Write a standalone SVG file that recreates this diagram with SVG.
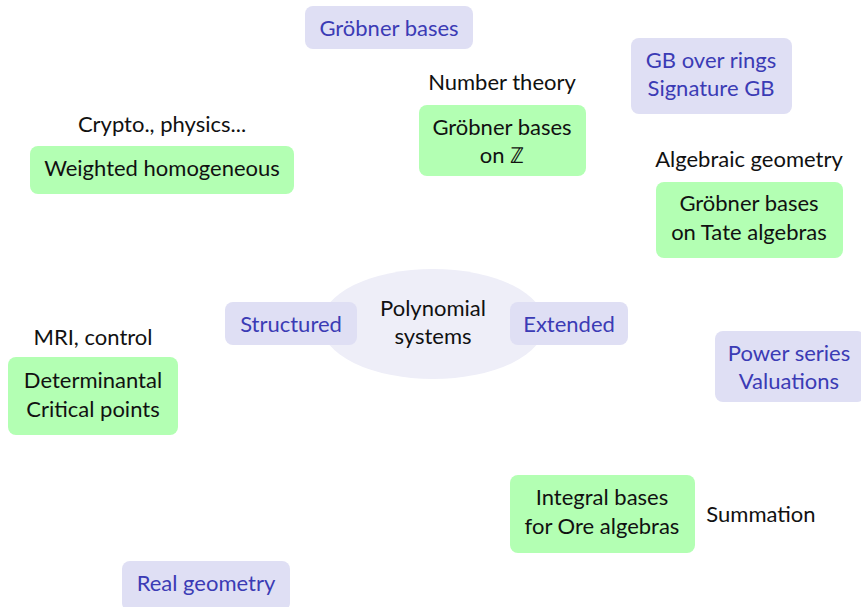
<svg xmlns="http://www.w3.org/2000/svg" width="861" height="607" viewBox="0 0 861 607">
<style>
text{font-family:Lato,"Open Sans",sans-serif;font-size:22px;text-anchor:middle;fill:#111}
.b rect{fill:#dfdff4}
.b text{fill:#3b3bb5}
.g rect{fill:#b3ffb3}
</style>
<rect width="861" height="607" fill="#fff"/>
<g id="connectors"></g>
<g id="center"><ellipse cx="433" cy="324" rx="112" ry="55" fill="#eeeef8"/>
<text x="433" y="316">Polynomial</text><text x="433" y="344">systems</text></g>
<g id="structured" class="b"><rect x="225" y="302" width="132" height="43" rx="8"/><text x="291" y="332">Structured</text></g>
<g id="extended" class="b"><rect x="510" y="302" width="118" height="43" rx="8"/><text x="569" y="332">Extended</text></g>
<g id="groebner" class="b"><rect x="305" y="6" width="168" height="43" rx="8"/><text x="389" y="36">Gröbner bases</text></g>
<g id="gbrings" class="b"><rect x="631" y="38" width="161" height="76" rx="8"/><text x="711" y="68">GB over rings</text><text x="711" y="96">Signature GB</text></g>
<g id="power" class="b"><rect x="715" y="331" width="150" height="71" rx="8"/><text x="789" y="361">Power series</text><text x="789" y="389">Valuations</text></g>
<g id="real" class="b"><rect x="122" y="561" width="168" height="50" rx="8"/><text x="206" y="591">Real geometry</text></g>
<g id="gbz" class="g"><text x="502" y="90">Number theory</text><rect x="419" y="105" width="167" height="71" rx="8"/><text x="502" y="135">Gröbner bases</text><text x="502" y="163">on ℤ</text></g>
<g id="tate" class="g"><text x="749" y="167">Algebraic geometry</text><rect x="656" y="182" width="187" height="76" rx="8"/><text x="749" y="211">Gröbner bases</text><text x="749" y="240">on Tate algebras</text></g>
<g id="weighted" class="g"><text x="162" y="132">Crypto., physics...</text><rect x="30" y="146" width="264" height="48" rx="8"/><text x="162" y="176">Weighted homogeneous</text></g>
<g id="determinantal" class="g"><text x="93" y="345">MRI, control</text><rect x="8" y="357" width="170" height="78" rx="8"/><text x="93" y="388">Determinantal</text><text x="93" y="417">Critical points</text></g>
<g id="integral" class="g"><rect x="510" y="475" width="185" height="78" rx="8"/><text x="602" y="505">Integral bases</text><text x="602" y="534">for Ore algebras</text><text x="761" y="522">Summation</text></g>
</svg>
